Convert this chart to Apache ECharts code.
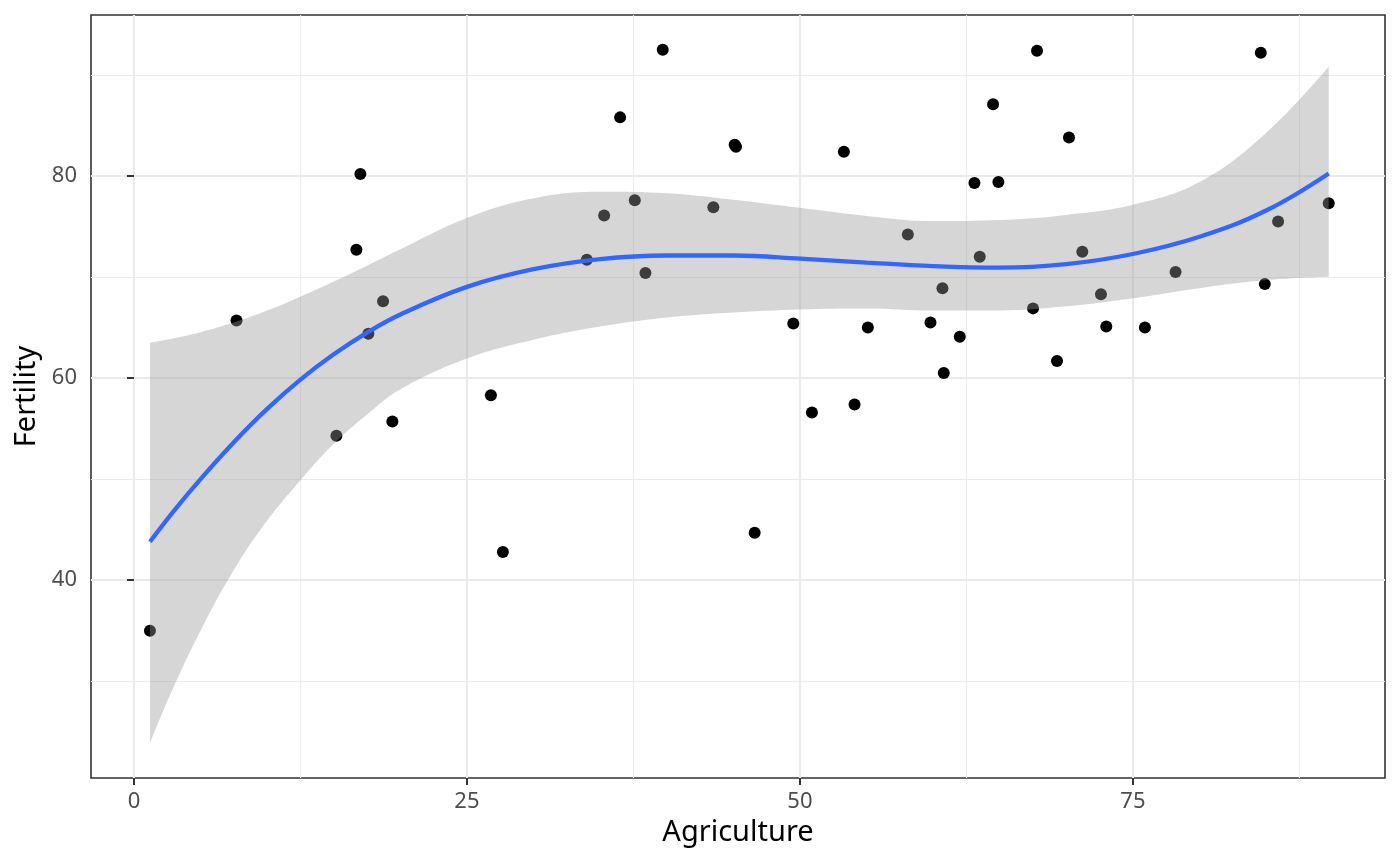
<!DOCTYPE html>
<html>
<head>
<meta charset="utf-8">
<script src="https://cdn.jsdelivr.net/npm/echarts@6/dist/echarts.min.js"></script>
<style>
  html, body { margin: 0; padding: 0; background: #fff; }
  #chart { width: 1400px; height: 865px; }
</style>
</head>
<body>
<div id="chart"></div>
<script>
// Swiss data: Agriculture (x) vs Fertility (y)
const agriculture = [17.0, 45.1, 39.7, 36.5, 43.5, 35.3, 70.2, 67.8, 53.3, 45.2, 64.5, 62.0, 67.5, 60.7, 69.3, 72.6, 34.0, 19.4, 15.2, 73.0, 59.8, 55.1, 50.9, 54.1, 71.2, 58.1, 63.5, 60.8, 26.8, 49.5, 85.9, 84.9, 89.7, 78.2, 64.9, 75.9, 84.6, 63.1, 38.4, 7.7, 16.7, 17.6, 37.6, 18.7, 1.2, 46.6, 27.7];
const fertility = [80.2, 83.1, 92.5, 85.8, 76.9, 76.1, 83.8, 92.4, 82.4, 82.9, 87.1, 64.1, 66.9, 68.9, 61.7, 68.3, 71.7, 55.7, 54.3, 65.1, 65.5, 65.0, 56.6, 57.4, 72.5, 74.2, 72.0, 60.5, 58.3, 65.4, 75.5, 69.3, 77.3, 70.5, 79.4, 65.0, 92.2, 79.3, 70.4, 65.7, 72.7, 64.4, 77.6, 67.6, 35.0, 44.7, 42.8];

// Smoother and its confidence band
const fitX = [1.2, 3, 5, 7.5, 10, 12.5, 15, 17.5, 20, 25, 30, 35, 40, 45, 50, 55, 60, 65, 70, 75, 80, 85, 89.7];
const fitY = [43.8, 46.86, 50.0, 53.65, 56.95, 59.85, 62.35, 64.5, 66.3, 69.03, 70.78, 71.78, 72.13, 72.13, 71.83, 71.43, 71.08, 70.93, 71.28, 72.28, 73.98, 76.58, 80.25];
const bandHigh = [63.5, 63.95, 64.55, 65.5, 66.68, 68.05, 69.55, 71.13, 72.75, 75.85, 77.8, 78.45, 78.3, 77.65, 76.85, 76.05, 75.55, 75.65, 76.15, 77.15, 79.4, 84.25, 90.8];
const bandLow = [23.9, 29.5, 35.0, 41.0, 45.9, 49.9, 53.5, 56.4, 58.9, 61.95, 63.8, 65.1, 66.0, 66.5, 66.8, 66.9, 66.7, 66.7, 67.1, 67.9, 68.9, 69.7, 70.03];

// Axis ticks
const xMajor = [0, 25, 50, 75];
const xMinor = [12.5, 37.5, 62.5, 87.5];
const yMajor = [40, 60, 80];
const yMinor = [30, 50, 70, 90];
const xRange = [-3.225, 93.925];
const yRange = [20.43, 95.93];

const chart = echarts.init(document.getElementById('chart'), null, { renderer: 'canvas' });

const FONT = 'Noto Sans';
const SMOOTH = 0.4;
const gridMajor = { show: true, lineStyle: { color: '#ebebeb', width: 2.1 } };
const gridMinor = { show: true, lineStyle: { color: '#ebebeb', width: 1.1 } };

const option = {
  animation: false,
  backgroundColor: '#ffffff',
  textStyle: { fontFamily: FONT },
  grid: {
    left: 91, right: 15, top: 15, bottom: 87,
    show: true, borderColor: '#333333', borderWidth: 1.6, backgroundColor: '#ffffff'
  },
  xAxis: [
    {
      type: 'value', min: xRange[0], max: xRange[1],
      axisLine: { show: false },
      axisTick: { show: true, customValues: xMajor, length: 7, lineStyle: { color: '#333333', width: 2 } },
      axisLabel: { show: true, customValues: xMajor, color: '#4d4d4d', fontSize: 22, margin: 13, fontFamily: FONT },
      splitLine: gridMajor,
      name: 'Agriculture', nameLocation: 'middle', nameGap: 40,
      nameTextStyle: { color: '#000000', fontSize: 29, fontFamily: FONT }
    },
    {
      type: 'value', min: xRange[0], max: xRange[1], position: 'bottom',
      axisLine: { show: false },
      axisTick: { show: false, customValues: xMinor },
      axisLabel: { show: false, customValues: xMinor },
      splitLine: gridMinor
    }
  ],
  yAxis: [
    {
      type: 'value', min: yRange[0], max: yRange[1],
      axisLine: { show: false },
      axisTick: { show: true, customValues: yMajor, length: 7, lineStyle: { color: '#333333', width: 2 } },
      axisLabel: { show: true, customValues: yMajor, color: '#4d4d4d', fontSize: 22, margin: 14, fontFamily: FONT },
      splitLine: gridMajor,
      name: 'Fertility', nameLocation: 'middle', nameGap: 49,
      nameTextStyle: { color: '#000000', fontSize: 29, fontFamily: FONT }
    },
    {
      type: 'value', min: yRange[0], max: yRange[1], position: 'left',
      axisLine: { show: false },
      axisTick: { show: false, customValues: yMinor },
      axisLabel: { show: false, customValues: yMinor },
      splitLine: gridMinor
    }
  ],
  series: [
    {
      type: 'scatter', name: 'points',
      data: agriculture.map((a, i) => [a, fertility[i]]),
      symbol: 'circle', symbolSize: 12,
      itemStyle: { color: '#000000', opacity: 1 },
      z: 2, silent: true
    },
    {
      type: 'line', name: 'bandLow', stack: 'band',
      data: fitX.map((x, i) => [bandLow[i], x]),
      encode: { x: 1, y: 0 },
      symbol: 'none', smooth: SMOOTH,
      lineStyle: { opacity: 0, width: 0 },
      z: 3, silent: true
    },
    {
      type: 'line', name: 'bandWidth', stack: 'band',
      data: fitX.map((x, i) => [bandHigh[i] - bandLow[i], x]),
      encode: { x: 1, y: 0 },
      symbol: 'none', smooth: SMOOTH,
      lineStyle: { opacity: 0, width: 0 },
      areaStyle: { color: 'rgba(153,153,153,0.4)', opacity: 1 },
      z: 3, silent: true
    },
    {
      type: 'line', name: 'fit',
      data: fitX.map((x, i) => [x, fitY[i]]),
      symbol: 'none', smooth: SMOOTH,
      lineStyle: { color: '#3366FF', width: 4.3 },
      z: 4, silent: true
    }
  ]
};

chart.setOption(option);
</script>
</body>
</html>
